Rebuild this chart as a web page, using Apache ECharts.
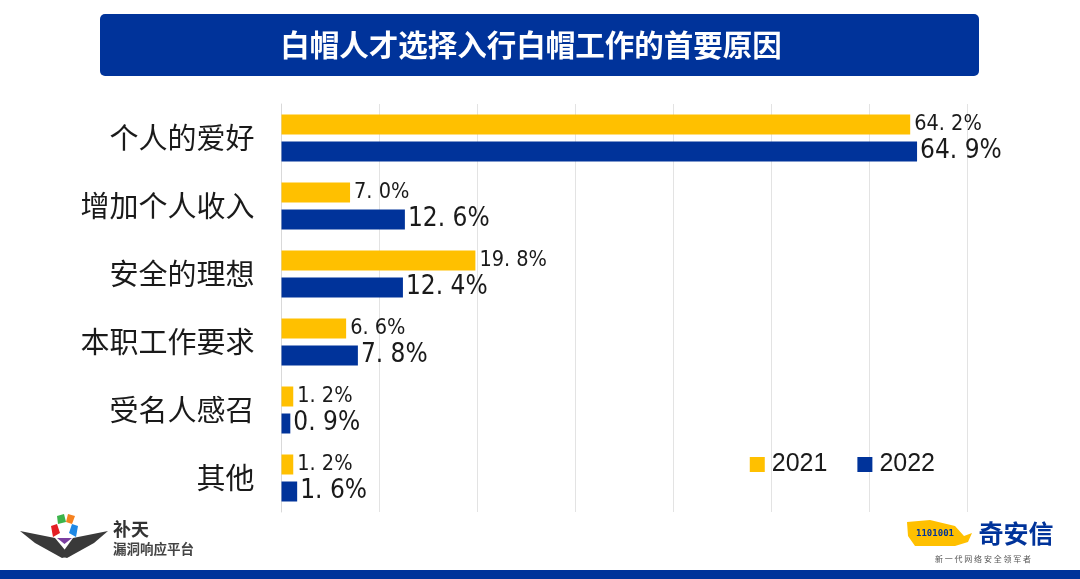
<!DOCTYPE html>
<html><head><meta charset="utf-8">
<script src="https://cdn.jsdelivr.net/npm/echarts@6/dist/echarts.min.js"></script>
<style>html,body{margin:0;padding:0;background:#fff}#c{width:1080px;height:579px}</style>
</head><body><div id="c"></div>
<script>
const categories = ['个人的爱好','增加个人收入','安全的理想','本职工作要求','受名人感召','其他'];
const values2021 = [64.2, 7.0, 19.8, 6.6, 1.2, 1.2];
const values2022 = [64.9, 12.6, 12.4, 7.8, 0.9, 1.6];
const seriesNames = ['2021','2022'];
const titleText = '白帽人才选择入行白帽工作的首要原因';

const YELLOW = '#FFC000', BLUE = '#00339A';
const numFont = '"DejaVu Sans Condensed","Liberation Sans Narrow","Noto Sans CJK SC",sans-serif';
const cjk = '"Noto Sans CJK SC",sans-serif';

const chart = echarts.init(document.getElementById('c'));
chart.setOption({
  animation:false,
  backgroundColor:'#fff',
  grid:{left:281.5,right:113,top:104,bottom:67},
  xAxis:{type:'value',min:0,max:70,interval:10,
    axisLabel:{show:false},axisLine:{show:false},axisTick:{show:false},
    splitLine:{lineStyle:{color:'#e3e3e3',width:1}}},
  yAxis:{type:'category',data:categories,inverse:true,
    axisLine:{show:true,lineStyle:{color:'#d9d9d9'}},axisTick:{show:false},
    axisLabel:{fontFamily:cjk,fontSize:29,color:'#1a1a1a',margin:27}},
  legend:{data:seriesNames,right:140,top:447,itemWidth:15,itemHeight:15,itemGap:30,icon:'rect',
    textStyle:{fontFamily:'"Liberation Sans",Arial,sans-serif',fontSize:25,color:'#1a1a1a',padding:[0,0,0,2]}},
  series:[
    {name:seriesNames[0],type:'bar',data:values2021,barWidth:20,barGap:'35%',
     itemStyle:{color:YELLOW},
     label:{show:true,position:'right',distance:4,fontFamily:numFont,fontSize:21.5,color:'#1a1a1a',
       formatter:p=>p.value.toFixed(1).replace('.', '. ')+'%'}},
    {name:seriesNames[1],type:'bar',data:values2022,barWidth:20,
     itemStyle:{color:BLUE},
     label:{show:true,position:'right',distance:3,fontFamily:numFont,fontSize:26,color:'#1a1a1a',
       formatter:p=>p.value.toFixed(1).replace('.', '. ')+'%'}}
  ],
  graphic:[
    {type:'rect',shape:{x:100,y:14,width:879,height:62,r:5},style:{fill:BLUE}},
    {type:'text',x:531,y:45,style:{text:titleText,fill:'#fff',font:'bold 29.5px "Noto Sans CJK SC",sans-serif',align:'center',verticalAlign:'middle'}},
    {type:'rect',shape:{x:0,y:570,width:1080,height:9},style:{fill:BLUE}},
    // 补天 logo
    {type:'polygon',shape:{points:[[20,531],[55,538],[70,556],[62,558],[35,543]]},style:{fill:'#3a3a3a'}},
    {type:'polygon',shape:{points:[[108,531],[73,538],[60,556],[67,558],[94,543]]},style:{fill:'#3a3a3a'}},
    {type:'polygon',shape:{points:[[57,516],[64,514],[66,522],[58,524]]},style:{fill:'#3cb44b'}},
    {type:'polygon',shape:{points:[[68,514],[75,516],[72,524],[66,522]]},style:{fill:'#f58220'}},
    {type:'polygon',shape:{points:[[51,526],[57,524],[60,533],[53,537]]},style:{fill:'#e31e24'}},
    {type:'polygon',shape:{points:[[78,526],[72,524],[69,533],[76,537]]},style:{fill:'#1e88e5'}},
    {type:'polygon',shape:{points:[[57,538],[72,538],[64.5,544]]},style:{fill:'#7b3fa0'}},
    {type:'text',x:113,y:529,style:{text:'补天',fill:'#333',font:'bold 18px "Noto Sans CJK SC",sans-serif',verticalAlign:'middle'}},
    {type:'text',x:113,y:549,style:{text:'漏洞响应平台',fill:'#444',font:'bold 13.5px "Noto Sans CJK SC",sans-serif',verticalAlign:'middle'}},
    // 奇安信 logo
    {type:'polygon',shape:{points:[[907,522],[930,520],[955,526],[964,536],[972,533],[968,542],[955,546],[915,546],[908,536]]},style:{fill:YELLOW}},
    {type:'text',x:935,y:534,style:{text:'1101001',fill:BLUE,font:'bold 9px monospace',align:'center',verticalAlign:'middle'}},
    {type:'text',x:1016,y:533,style:{text:'奇安信',fill:BLUE,font:'bold 25px "Noto Sans CJK SC",sans-serif',align:'center',verticalAlign:'middle'}},
    {type:'text',x:983,y:559,style:{text:'新 一 代 网 络 安 全 领 军 者',fill:'#555',font:'8px "Noto Sans CJK SC",sans-serif',align:'center',verticalAlign:'middle'}}
  ]
});
</script></body></html>
